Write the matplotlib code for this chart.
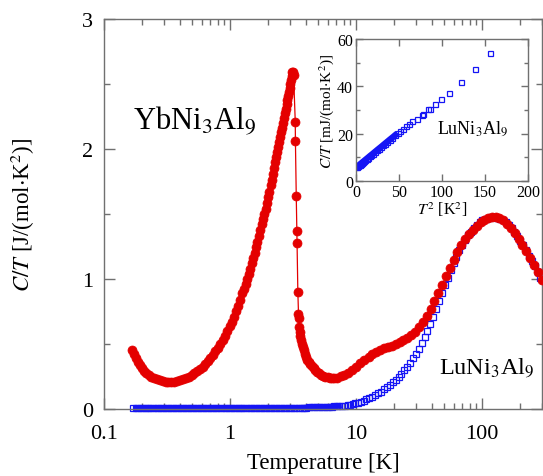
import numpy as np
import matplotlib
matplotlib.use('Agg')
import matplotlib.pyplot as plt
from matplotlib.ticker import LogLocator, NullFormatter, FixedLocator, MultipleLocator

plt.rcParams['font.family'] = ['Liberation Serif', 'DejaVu Serif']
plt.rcParams['mathtext.fontset'] = 'stix'

# YbNi3Al9, C/T [J/(mol K^2)] vs T [K]
yb_T = [0.166, 0.172, 0.178, 0.185, 0.192, 0.20, 0.208, 0.217, 0.227, 0.238, 0.25, 0.263,
        0.277, 0.292, 0.308, 0.325, 0.343, 0.362, 0.382, 0.403, 0.425, 0.448, 0.472, 0.497,
        0.523, 0.55, 0.578, 0.607, 0.637, 0.668, 0.70, 0.733, 0.767, 0.802, 0.838, 0.875,
        0.913, 0.952, 0.992, 1.033, 1.075, 1.118, 1.162, 1.207, 1.253, 1.29, 1.33, 1.37,
        1.41, 1.45, 1.49, 1.53, 1.57, 1.61, 1.65, 1.695, 1.74, 1.785, 1.83, 1.875, 1.92,
        1.965, 2.01, 2.05, 2.10, 2.145, 2.19, 2.235, 2.28, 2.325, 2.37, 2.415, 2.46, 2.505,
        2.55, 2.595, 2.64, 2.685, 2.73, 2.775, 2.82, 2.86, 2.90, 2.94, 2.98, 3.02, 3.06,
        3.10, 3.13, 3.17, 3.20,
        3.30, 3.31, 3.36, 3.40, 3.41, 3.46, 3.50, 3.51,
        3.54, 3.58, 3.62, 3.67, 3.72, 3.78, 3.85, 3.93, 4.02, 4.12, 4.23, 4.35, 4.48, 4.62,
        4.77, 4.93, 5.1, 5.3, 5.5, 5.72, 5.95, 6.2, 6.45, 6.7, 7.1, 7.6, 8.1, 8.7, 9.3,
        10.0, 10.8, 11.7, 12.6, 13.5, 14.5, 15.6, 16.8, 18.0, 19.3, 20.7, 22.2, 23.8, 25.6,
        27.5, 29.5, 31.7, 34.0, 36.5, 39.2, 42.0, 45.0, 48.3, 51.8, 55.6, 59.7, 64.0, 68.7,
        73.7, 79.0, 84.8, 91.0, 97.6, 104.7, 112, 120, 129, 138, 148, 159, 170, 183, 196,
        210, 225, 242, 260, 279, 299]
yb_C = [0.45, 0.42, 0.39, 0.365, 0.34, 0.315, 0.295, 0.277, 0.26, 0.247, 0.236, 0.227,
        0.22, 0.214, 0.21, 0.208, 0.208, 0.21, 0.214, 0.22, 0.228, 0.237, 0.248, 0.26,
        0.274, 0.29, 0.307, 0.326, 0.346, 0.368, 0.392, 0.417, 0.443, 0.47, 0.50, 0.53,
        0.565, 0.60, 0.635, 0.67, 0.71, 0.75, 0.79, 0.835, 0.89, 0.925, 0.96, 1.0,
        1.04, 1.08, 1.12, 1.16, 1.20, 1.245, 1.285, 1.33, 1.375, 1.42, 1.46, 1.50, 1.54,
        1.585, 1.63, 1.67, 1.72, 1.765, 1.81, 1.855, 1.90, 1.94, 1.98, 2.015, 2.05, 2.09,
        2.13, 2.165, 2.20, 2.24, 2.275, 2.31, 2.345, 2.38, 2.41, 2.44, 2.47, 2.50, 2.53,
        2.56, 2.59, 2.59, 2.57,
        2.21, 2.06, 1.64, 1.37, 1.28, 0.90, 0.73, 0.70,
        0.63, 0.59, 0.56, 0.53, 0.50, 0.475, 0.45, 0.425, 0.40, 0.38, 0.36, 0.345, 0.33, 0.315,
        0.30, 0.288, 0.276, 0.265, 0.256, 0.249, 0.243, 0.239, 0.237, 0.236, 0.24, 0.25, 0.262, 0.28, 0.30,
        0.325, 0.35, 0.375, 0.40, 0.42, 0.44, 0.455, 0.468, 0.478, 0.488, 0.50, 0.513, 0.528, 0.546,
        0.568, 0.595, 0.628, 0.668, 0.715, 0.77, 0.83, 0.89, 0.955, 1.02, 1.085, 1.145, 1.205, 1.26,
        1.305, 1.345, 1.38, 1.41, 1.435, 1.455, 1.467, 1.474, 1.474, 1.466, 1.45, 1.425, 1.395, 1.355, 1.31,
        1.265, 1.215, 1.16, 1.105, 1.05, 0.995]

# LuNi3Al9, C/T [J/(mol K^2)] vs T [K]
lu_T = [0.17, 0.178, 0.186, 0.195, 0.204, 0.214, 0.224, 0.234, 0.245, 0.257, 0.269, 0.282,
        0.295, 0.309, 0.323, 0.338, 0.354, 0.371, 0.388, 0.407, 0.426, 0.446, 0.467, 0.489,
        0.512, 0.536, 0.561, 0.588, 0.615, 0.644, 0.675, 0.707, 0.74, 0.775, 0.81, 0.85,
        0.89, 0.93, 0.975, 1.02, 1.07, 1.12, 1.17, 1.23, 1.28, 1.35, 1.41, 1.47, 1.54, 1.62,
        1.69, 1.77, 1.86, 1.94, 2.03, 2.13, 2.23, 2.34, 2.45, 2.56, 2.68, 2.81, 2.94, 3.08,
        3.22, 3.37, 3.53, 3.7, 3.87, 4.05, 4.25, 4.45, 4.66, 4.88, 5.1, 5.35, 5.6, 5.86,
        6.14, 6.43, 6.73, 7.05, 7.38, 7.73,
        8.2, 8.6, 9.0, 9.4, 9.9, 10.4, 10.9, 11.5, 12.1, 12.8, 13.5, 14.2, 15.0, 15.8,
        16.7, 17.6, 18.6, 19.6, 20.7, 21.8, 23.0, 24.3, 25.6, 27.0, 28.5, 30.0, 31.6, 33.3,
        35.1, 37.0, 39.0, 41.1, 43.4, 45.7, 48.2, 50.8, 53.6, 56.5, 59.6, 62.8, 66.2, 69.8,
        73.6, 77.6, 81.8, 86.3, 91.0, 95.9, 101, 107, 113, 119, 125, 132, 139, 147, 155,
        163, 172, 181, 191, 201, 212, 224, 236, 249, 262, 277, 292]
lu_C = [0.0058, 0.0058, 0.0058, 0.0058, 0.0058, 0.0058, 0.0058, 0.0058, 0.0058, 0.0058, 0.0058, 0.0058,
        0.0058, 0.0058, 0.0058, 0.0058, 0.0058, 0.0058, 0.0058, 0.0059, 0.0059, 0.0059, 0.0059, 0.0059,
        0.0059, 0.0059, 0.0059, 0.006, 0.006, 0.006, 0.006, 0.006, 0.006, 0.006, 0.006, 0.0061,
        0.0061, 0.0061, 0.0061, 0.0061, 0.0062, 0.0062, 0.0062, 0.0063, 0.0063, 0.0064, 0.0064, 0.0065, 0.0065, 0.0066,
        0.0067, 0.0068, 0.0069, 0.007, 0.0071, 0.0072, 0.0073, 0.0075, 0.0077, 0.0078, 0.008, 0.0083, 0.0085, 0.0088,
        0.0091, 0.0094, 0.0097, 0.0101, 0.0105, 0.011, 0.0115, 0.012, 0.0126, 0.0132, 0.0139, 0.0147, 0.0155, 0.0164,
        0.0174, 0.0186, 0.0198, 0.021, 0.0225, 0.024,
        0.026, 0.029, 0.033, 0.037, 0.043, 0.049, 0.056, 0.064, 0.073, 0.083, 0.094, 0.106, 0.12, 0.134,
        0.15, 0.167, 0.186, 0.205, 0.226, 0.248, 0.272, 0.298, 0.325, 0.355, 0.39, 0.425, 0.465, 0.505,
        0.55, 0.60, 0.65, 0.71, 0.77, 0.83, 0.89, 0.95, 1.01, 1.07, 1.12, 1.17, 1.22, 1.26,
        1.30, 1.335, 1.365, 1.39, 1.415, 1.435, 1.45, 1.462, 1.47, 1.474, 1.475, 1.472, 1.465, 1.452, 1.435,
        1.415, 1.39, 1.36, 1.33, 1.295, 1.26, 1.22, 1.18, 1.14, 1.10, 1.055, 1.01]
n_dense = 84  # the low-T points that merge into a solid band

# inset: LuNi3Al9, C/T [mJ/(mol K^2)] vs T^2 [K^2]
in_T2 = [0.3, 0.8, 1.5, 2.3, 3.2, 4.2, 5.3, 6.5, 7.8, 9.2, 10.7, 12.3, 14.0, 15.8, 17.7,
         19.7, 21.8, 24.0, 26.3, 28.7, 31.2, 33.8, 36.5, 39.3, 42.2, 45.2, 48.3, 51.5, 54.8,
         58.2, 61.7, 65.3, 70.5, 76.4, 78.0, 84.0, 86.0, 92.0, 98.5, 108.5, 122, 138, 155.8]
in_C = [5.8, 5.95, 6.15, 6.4, 6.65, 6.95, 7.3, 7.65, 8.05, 8.45, 8.9, 9.4, 9.9, 10.45, 11.0,
        11.6, 12.25, 12.9, 13.6, 14.3, 15.05, 15.85, 16.65, 17.5, 18.35, 19.25, 20.2, 21.15, 22.15,
        23.2, 24.2, 25.2, 26.4, 28.0, 28.3, 30.3, 30.6, 32.7, 34.7, 37.4, 41.7, 47.4, 54.1]
in_dense = 27

red = '#e40000'
blue = '#1515f5'
spine_c = '#707070'

fig = plt.figure(figsize=(5.43, 4.77), dpi=100)
ax = fig.add_axes([0.1915, 0.1405, 0.8066, 0.8176])

ax.plot(lu_T[:n_dense], lu_C[:n_dense], color=blue, linewidth=4.0, solid_capstyle='butt',
        zorder=2, clip_on=False)
ax.plot(lu_T, lu_C, linestyle='none', marker='s', markersize=3.8, markerfacecolor='none',
        markeredgecolor=blue, markeredgewidth=0.9, zorder=2, clip_on=False)
ax.plot(yb_T, yb_C, color=red, linewidth=0.9, marker='o', markersize=6.5,
        markerfacecolor=red, markeredgecolor=red, markeredgewidth=0.5, zorder=3)

ax.set_xscale('log')
ax.set_xlim(0.1, 300)
ax.set_ylim(0, 3)
ax.xaxis.set_major_locator(FixedLocator([0.1, 1, 10, 100]))
ax.xaxis.set_minor_locator(LogLocator(base=10, subs=np.arange(2, 10)))
ax.xaxis.set_minor_formatter(NullFormatter())
ax.set_xticklabels(['0.1', '1', '10', '100'])
ax.yaxis.set_major_locator(MultipleLocator(1))
ax.yaxis.set_minor_locator(MultipleLocator(0.5))
ax.tick_params(which='both', direction='in', top=True, right=True, labelsize=16,
               color=spine_c, width=1.0)
ax.tick_params(axis='x', which='both', pad=11)
ax.tick_params(axis='y', which='both', pad=8)
ax.tick_params(which='major', length=8)
ax.tick_params(which='minor', length=4.5)
for s in ax.spines.values():
    s.set_color(spine_c)
    s.set_linewidth(1.0)

ax.set_xlabel('Temperature [K]', fontsize=16.5, labelpad=6)
ax.set_ylabel(r'$C/T$ [J/(mol$\cdot$K$^2$)]', fontsize=16.5, labelpad=32)

ax.text(0.066, 0.72, r'YbNi$_\mathrm{3}$Al$_\mathrm{9}$', transform=ax.transAxes, fontsize=22)
ax.text(0.765, 0.095, r'LuNi$_\mathrm{3}$Al$_\mathrm{9}$', transform=ax.transAxes, fontsize=17.5)

# inset
axi = fig.add_axes([0.6556, 0.6184, 0.3168, 0.2977])
axi.plot(in_T2[:in_dense], in_C[:in_dense], color=blue, linewidth=4.5, solid_capstyle='butt')
axi.plot(in_T2, in_C, linestyle='none', marker='s', markersize=3.6, markerfacecolor='none',
         markeredgecolor=blue, markeredgewidth=0.9)
axi.set_xlim(0, 200)
axi.set_ylim(0, 60)
axi.xaxis.set_major_locator(MultipleLocator(50))
axi.yaxis.set_major_locator(MultipleLocator(20))
axi.yaxis.set_minor_locator(MultipleLocator(10))
axi.tick_params(which='both', direction='in', top=True, right=True, labelsize=11.5,
                color=spine_c, width=1.0, pad=2)
axi.tick_params(which='major', length=5)
axi.tick_params(which='minor', length=3)
for s in axi.spines.values():
    s.set_color(spine_c)
    s.set_linewidth(1.0)
axi.set_xlabel(r'$T^2$ [K$^2$]', fontsize=11.5, labelpad=0)
axi.set_ylabel(r'$C/T$ [mJ/(mol$\cdot$K$^2$)]', fontsize=11, labelpad=1)
axi.text(0.47, 0.34, r'LuNi$_\mathrm{3}$Al$_\mathrm{9}$', transform=axi.transAxes, fontsize=13)

fig.savefig('out.png', dpi=100)
